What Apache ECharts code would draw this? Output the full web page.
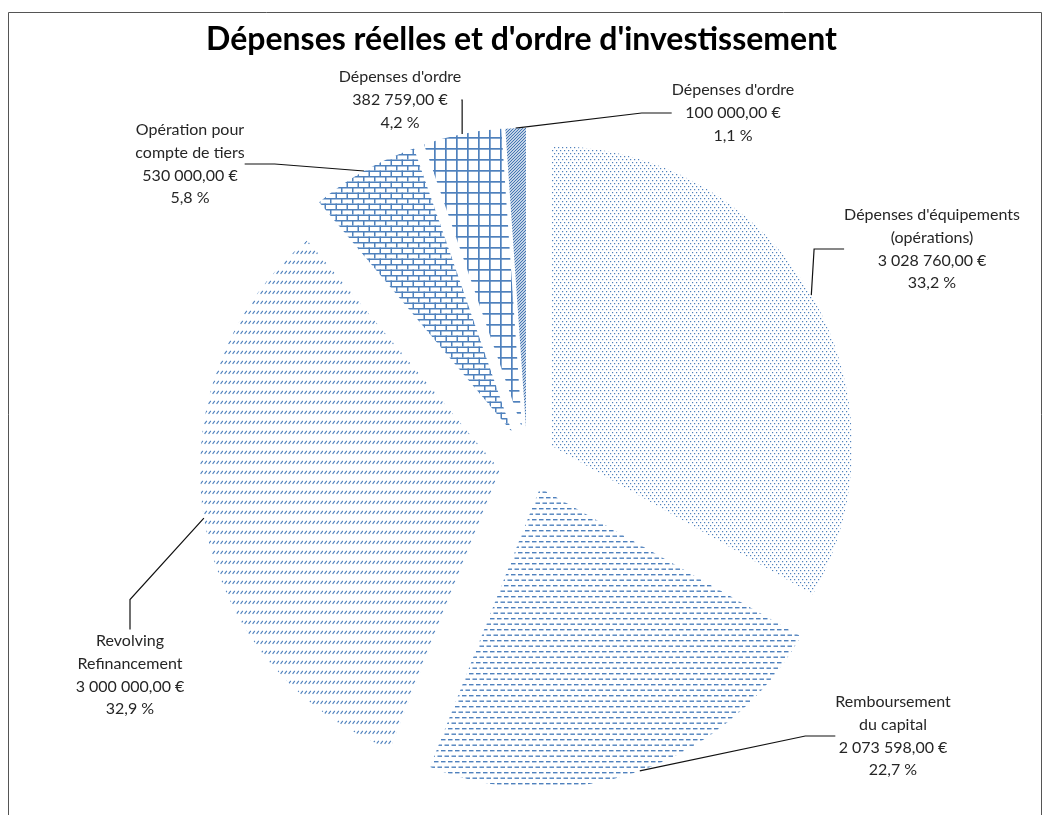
<!DOCTYPE html>
<html>
<head>
<meta charset="utf-8">
<script src="https://cdn.jsdelivr.net/npm/echarts@6/dist/echarts.min.js"></script>
<style>
html,body{margin:0;padding:0;background:#fff;}
#chart{width:1043px;height:815px;}
</style>
</head>
<body>
<div id="chart"></div>
<script>
// ---- data ----
const categories = [
  "Dépenses d'équipements\n(opérations)",
  "Remboursement\ndu capital",
  "Revolving\nRefinancement",
  "Opération pour\ncompte de tiers",
  "Dépenses d'ordre",
  "Dépenses d'ordre"
];
const values = [3028760, 2073598, 3000000, 530000, 382759, 100000];
const titleText = "Dépenses réelles et d'ordre d'investissement";

// ---- layout (exploded slice centres and label centres, px) ----
const sliceCenters = [[552,446],[540,488],[500,470],[512,432],[522,428],[526,428]];
const labelCenters = [[932,249],[893,736],[130,675],[190,164],[400,100],[733,113]];
const RADIUS = 300;
const BLUE = '#4f81bd';

function makeTile(w, h, draw){
  const c = document.createElement('canvas');
  c.width = w; c.height = h;
  const ctx = c.getContext('2d');
  ctx.fillStyle = BLUE; ctx.strokeStyle = BLUE;
  draw(ctx, w, h);
  return {image: c, repeat: 'repeat'};
}
const patterns = [
  // dots
  makeTile(4, 6, (ctx)=>{ ctx.fillRect(0,0,1.2,1.2); ctx.fillRect(2,3,1.2,1.2); }),
  // horizontal dashes
  makeTile(7, 11, (ctx)=>{ ctx.fillRect(0,2,4.5,1.4); ctx.fillRect(3.5,7.5,4.5,1.4); ctx.fillRect(-3.5,7.5,4.5,1.4); }),
  // diagonal dashes
  makeTile(4, 10, (ctx)=>{ ctx.lineWidth = 1.1; ctx.beginPath(); ctx.moveTo(0.6,3.8); ctx.lineTo(2.8,0.8); ctx.stroke(); }),
  // bricks
  makeTile(11, 11, (ctx)=>{ ctx.fillRect(0,0,11,1.5); ctx.fillRect(0,5.5,11,1.5); ctx.fillRect(0,0,1.5,5.5); ctx.fillRect(5.5,5.5,1.5,5.5); }),
  // grid
  makeTile(11, 11, (ctx)=>{ ctx.fillRect(0,5,11,1.7); ctx.fillRect(5,0,1.7,11); }),
  // dense diagonal stripes
  makeTile(3, 3, (ctx)=>{ ctx.strokeStyle = '#3f72b0'; ctx.lineWidth = 1.2; ctx.beginPath();
    ctx.moveTo(-1,4); ctx.lineTo(4,-1); ctx.moveTo(-1,1); ctx.lineTo(1,-1); ctx.moveTo(2,4); ctx.lineTo(4,2); ctx.stroke(); })
];

const total = values.reduce((a,b)=>a+b,0);
function fmtMoney(v){
  const parts = v.toFixed(2).split('.');
  const intp = parts[0].replace(/\B(?=(\d{3})+(?!\d))/g, ' ');
  return intp + ',' + parts[1] + ' €';
}
function fmtPct(v){ return (v/total*100).toFixed(1).replace('.', ',') + ' %'; }

const FONT = 'Lato, Carlito, "Open Sans", sans-serif';

const series = values.map((_, i) => ({
  type: 'pie',
  center: sliceCenters[i],
  radius: [0, RADIUS],
  startAngle: 90,
  clockwise: true,
  silent: true,
  animation: false,
  avoidLabelOverlap: false,
  emphasis: {disabled: true},
  itemStyle: {borderWidth: 0},
  label: {
    position: 'outside',
    fontFamily: FONT,
    fontSize: 16,
    lineHeight: 22.7,
    color: '#262626',
    align: 'center',
    formatter: (p) => p.name + '\n' + fmtMoney(p.value) + '\n' + fmtPct(p.value)
  },
  labelLine: {show: true, smooth: false, lineStyle: {color: '#111', width: 1.2}},
  labelLayout: () => ({x: labelCenters[i][0], y: labelCenters[i][1], align: 'center', verticalAlign: 'middle'}),
  data: values.map((v, j) => ({
    name: categories[j],
    value: v,
    itemStyle: j === i ? {color: patterns[i]} : {color: 'rgba(0,0,0,0)'},
    label: {show: j === i},
    labelLine: {show: j === i}
  }))
}));

const chart = echarts.init(document.getElementById('chart'), null, {renderer: 'canvas'});
chart.setOption({
  backgroundColor: '#fff',
  animation: false,
  title: {
    text: titleText,
    left: 'center',
    top: 19,
    textStyle: {fontFamily: FONT, fontWeight: 'bold', fontSize: 32, color: '#000'}
  },
  graphic: [{
    type: 'rect', silent: true, z: -1,
    shape: {x: 8.5, y: 12.5, width: 1033, height: 830},
    style: {fill: 'none', stroke: '#555', lineWidth: 1}
  }],
  series: series
});
</script>
</body>
</html>
